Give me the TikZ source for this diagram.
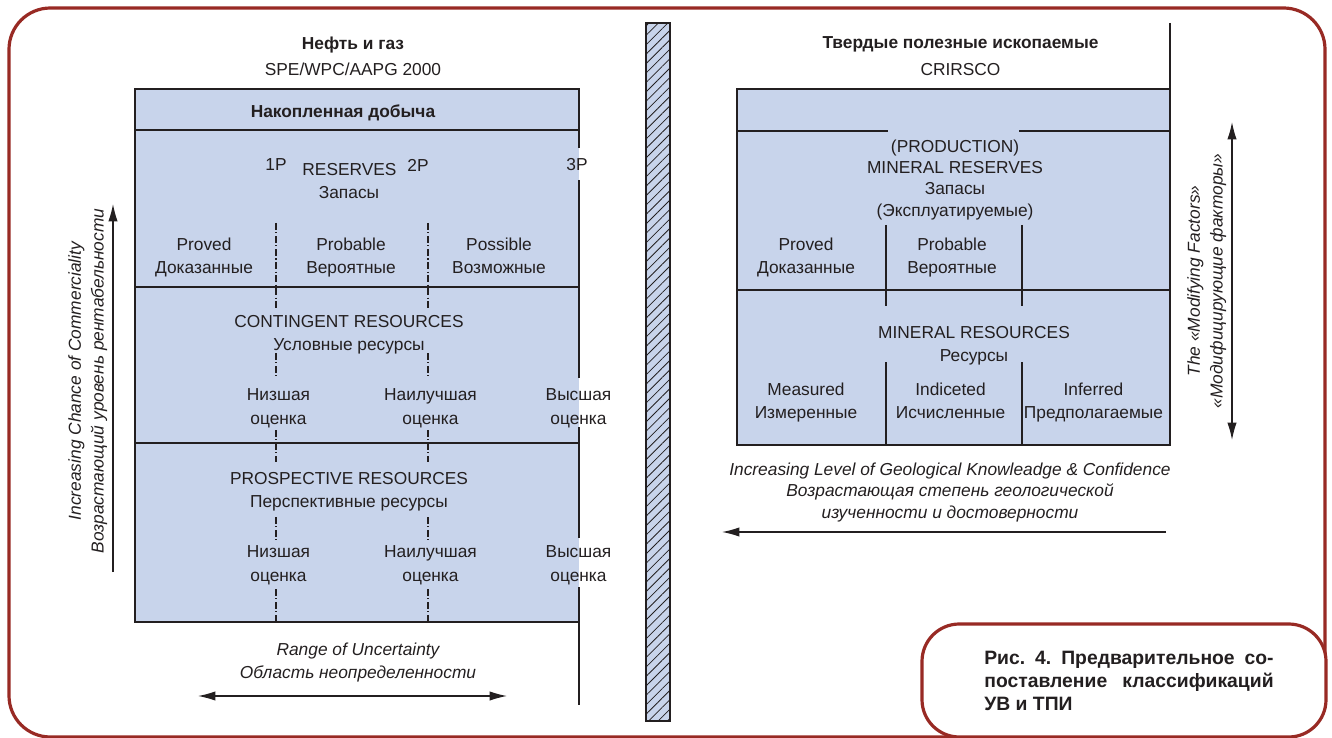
\documentclass[tikz,border=0pt]{standalone}
\usepackage{fontspec}
\setmainfont{Liberation Sans}
\usetikzlibrary{positioning, arrows.meta, patterns.meta}

\definecolor{boxfill}{RGB}{200,212,235}
\definecolor{rim}{RGB}{152,42,36}
\definecolor{ink}{RGB}{35,31,32}

\begin{document}
\frenchspacing
\begin{tikzpicture}[
    x=0.75pt, y=-0.75pt,
    every node/.style={font=\fontsize{13}{17.5}\selectfont, text=ink, inner sep=1pt, align=center, text depth=0pt},
    head/.style={font=\fontsize{13}{17}\selectfont\bfseries},
    slant/.style={font=\fontsize{13}{17}\selectfont\itshape},
    tight/.style={font=\fontsize{13}{16}\selectfont},
    rim line/.style={draw=rim, line width=2.4pt},
    rule/.style={draw=ink, line width=0.9pt},
    heavy rule/.style={draw=ink, line width=2pt},
    dashdot/.style={draw=ink, line width=0.8pt, dash pattern=on 5pt off 2pt on 0.8pt off 2pt},
    arr/.style={draw=ink, line width=0.9pt, -{Latex[length=13pt,width=7pt]}},
    darr/.style={draw=ink, line width=0.9pt, {Latex[length=13pt,width=7pt]}-{Latex[length=13pt,width=7pt]}}
  ]
  \useasboundingbox (0,0) rectangle (1332,738);
  \clip (0,0) rectangle (1332,738);

  \draw[rim line, rounded corners=31pt] (9,8) rectangle (1325,737);

  % hatched separator
  \path[fill=boxfill] (646,23) rectangle (670,721);
  \path[pattern={Lines[angle=45,distance=5pt,line width=0.6pt]}, pattern color=ink] (646,23) rectangle (670,721);
  \draw[rule] (646,23) rectangle (670,721);

  % oil and gas
  \path[fill=boxfill] (135,130) rectangle (579,622);
  \draw[rule] (579,622) -- (135,622) -- (135,130);
  \draw[rule] (579,130) -- (579,148) (579,180) -- (579,378) (579,427) -- (579,538) (579,587) -- (579,705);
  \draw[rule] (135,287) -- (579,287) (135,443) -- (579,443);
  \draw[heavy rule, line width=1.6pt, fill=boxfill] (135,89) rectangle (579,130);
  \foreach \x in {276,428}
    \draw[dashdot] (\x,223) -- (\x,309) (\x,353) -- (\x,378) (\x,430) -- (\x,462) (\x,517) -- (\x,540) (\x,589) -- (\x,622);

  \node[head] (oil) at (353,43) {Нефть и газ};
  \node (spe) at (353,69) {SPE/WPC/AAPG 2000};
  \node[head] (cum) at (343,111) {Накопленная добыча};
  \node (p1) at (276,165) {1P};
  \node (res) at (349.5,169) {RESERVES};
  \node (p2) at (418,165) {2P};
  \node (p3) at (577,164) {3P};
  \node (zap) at (349,192) {Запасы};
  \node (proved) at (204,256) {Proved\\Доказанные};
  \node (probable) at (351,256) {Probable\\Вероятные};
  \node (possible) at (499,256) {Possible\\Возможные};
  \node (cont) at (349,333) {CONTINGENT RESOURCES\\Условные ресурсы};
  \node (low1) at (278.5,406.5) {Низшая\\оценка};
  \node (best1) at (430.5,406.5) {Наилучшая\\оценка};
  \node (high1) at (578.5,406.5) {Высшая\\оценка};
  \node (prosp) at (349,490) {PROSPECTIVE RESOURCES\\Перспективные ресурсы};
  \node (low2) at (278.5,563.5) {Низшая\\оценка};
  \node (best2) at (430.5,563.5) {Наилучшая\\оценка};
  \node (high2) at (578.5,563.5) {Высшая\\оценка};
  \node[slant] (range) at (358,660.5) {Range of Uncertainty\\Область неопределенности};
  \node[slant, rotate=90] (comm) at (86,381) {Increasing Chance of Commerciality\\Возрастающий уровень рентабельности};

  \draw[arr] (113,572) -- (113,204);
  \draw[darr] (198,696) -- (507,696);

  % solid minerals
  \path[fill=boxfill] (737,89) rectangle (1170,445);
  \draw[heavy rule] (1170,23) -- (1170,89);
  \draw[heavy rule] (737,89) rectangle (1170,445);
  \draw[heavy rule] (737,131) -- (888,131) (1019,131) -- (1170,131);
  \draw[heavy rule] (737,290) -- (1170,290);
  \foreach \x in {886,1022}
    \draw[heavy rule] (\x,225) -- (\x,306) (\x,362) -- (\x,445);

  \node[head] (solid) at (960.5,43) {Твердые полезные ископаемые};
  \node (crirsco) at (960.5,69) {CRIRSCO};
  \node[tight] (mres) at (955,178) {(PRODUCTION)\\MINERAL RESERVES\\Запасы\\(Эксплуатируемые)};
  \node (mproved) at (806,255.5) {Proved\\Доказанные};
  \node (mprobable) at (952,255.5) {Probable\\Вероятные};
  \node (mresources) at (974,344) {MINERAL RESOURCES\\Ресурсы};
  \node (measured) at (806,401) {Measured\\Измеренные};
  \node (indicated) at (950.5,401) {Indiceted\\Исчисленные};
  \node (inferred) at (1093.5,401) {Inferred\\Предполагаемые};
  \node[slant, font=\fontsize{13}{16}\selectfont\itshape] (geo) at (950,490.5) {Increasing Level of Geological Knowleadge \& Confidence\\Возрастающая степень геологической\\изученности и достоверности};
  \node[slant, rotate=90] (modf) at (1205,281) {The «Modifying Factors»\\«Модифицирующие факторы»};

  \draw[arr] (1166,532) -- (722,532);
  \draw[darr] (1232,440) -- (1232,122);

  % caption
  \draw[rim line, fill=white, rounded corners=28pt] (922,624) rectangle (1326,737);
  \node[head, font=\fontsize{14.5}{17}\selectfont\bfseries, align=left] (cap) at (1129,681) {\makebox[217pt][s]{Рис. 4. Предварительное со-}\\\makebox[217pt][s]{поставление классификаций}\\УВ и ТПИ};
\end{tikzpicture}
\end{document}
